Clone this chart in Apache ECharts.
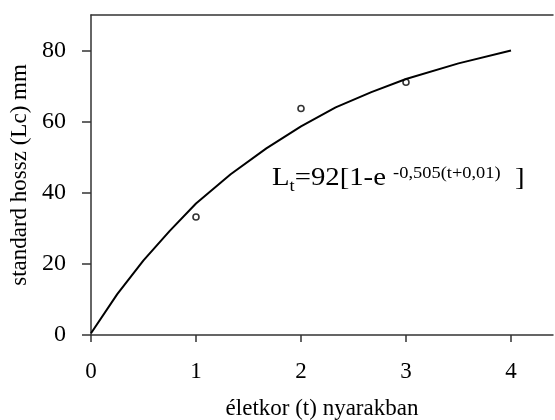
<!DOCTYPE html>
<html>
<head>
<meta charset="utf-8">
<script src="https://cdn.jsdelivr.net/npm/echarts@6/dist/echarts.min.js"></script>
<style>
  html, body { margin: 0; padding: 0; background: #fff; }
  #chart { width: 555px; height: 420px; }
</style>
</head>
<body>
<div id="chart"></div>
<script>
// fitted curve
var curveAge = [0, 0.25, 0.5, 0.75, 1, 1.33, 1.67, 2, 2.33, 2.67, 3, 3.5, 4];
var curveLen = [0.5, 11.5, 21, 29.3, 37, 45.2, 52.5, 58.7, 64, 68.3, 72, 76.4, 80];
// measured points
var obsAge = [1, 2, 3];
var obsLen = [33.2, 63.7, 71.1];
// tick labels
var xTicks = [0, 1, 2, 3, 4];
var yTicks = [0, 20, 40, 60, 80];

var font = "Liberation Serif";
var chart = echarts.init(document.getElementById("chart"));

chart.setOption({
  animation: false,
  grid: { left: 91, top: 15, right: 2, bottom: 85, outerBoundsMode: "none" },
  xAxis: [
    {
      type: "value",
      min: 0,
      max: 4.4,
      name: "életkor (t) nyarakban",
      nameLocation: "middle",
      nameGap: 62,
      nameTextStyle: { fontFamily: font, fontSize: 23, color: "#000" },
      axisLine: { lineStyle: { color: "#333", width: 1.5 } },
      axisTick: { length: 7, customValues: xTicks, lineStyle: { color: "#333", width: 1.5 } },
      axisLabel: { customValues: xTicks, margin: 25, fontFamily: font, fontSize: 23, color: "#000" },
      splitLine: { show: false }
    },
    {
      // top frame line
      type: "value",
      position: "top",
      min: 0,
      max: 4.4,
      axisLine: { show: true, lineStyle: { color: "#333", width: 1.5 } },
      axisTick: { show: false },
      axisLabel: { show: false },
      splitLine: { show: false }
    }
  ],
  yAxis: {
    type: "value",
    min: 0,
    max: 90,
    name: "standard hossz (Lc) mm",
    nameLocation: "middle",
    nameGap: 46,
    nameTextStyle: { fontFamily: font, fontSize: 23, color: "#000" },
    axisLine: { show: true, lineStyle: { color: "#333", width: 1.5 } },
    axisTick: { show: true, inside: false, length: 9, customValues: yTicks, lineStyle: { color: "#333", width: 1.5 } },
    axisLabel: { customValues: yTicks, margin: 25, fontFamily: font, fontSize: 24, color: "#000" },
    splitLine: { show: false }
  },
  series: [
    {
      type: "line",
      data: curveAge.map(function (t, i) { return [t, curveLen[i]]; }),
      showSymbol: false,
      lineStyle: { color: "#000", width: 2 }
    },
    {
      type: "scatter",
      data: obsAge.map(function (t, i) { return [t, obsLen[i]]; }),
      symbol: "circle",
      symbolSize: 6,
      itemStyle: { color: "#fff", borderColor: "#000", borderWidth: 1.6 }
    }
  ],
  graphic: [
    {
      type: "text",
      x: 272,
      y: 156,
      scaleX: 1.15,
      style: {
        text: "{b|L}{s|t}{b|=92[1-e }{p|-0,505(t+0,01)}{b|  ]}",
        rich: {
          b: { fontFamily: font, fontSize: 25, color: "#000", verticalAlign: "bottom", height: 28 },
          s: { fontFamily: font, fontSize: 16, color: "#000", verticalAlign: "bottom", height: 22, padding: [0, 0, -6, 0] },
          p: { fontFamily: font, fontSize: 16, color: "#000", verticalAlign: "top", height: 36 }
        }
      }
    }
  ]
});
</script>
</body>
</html>
